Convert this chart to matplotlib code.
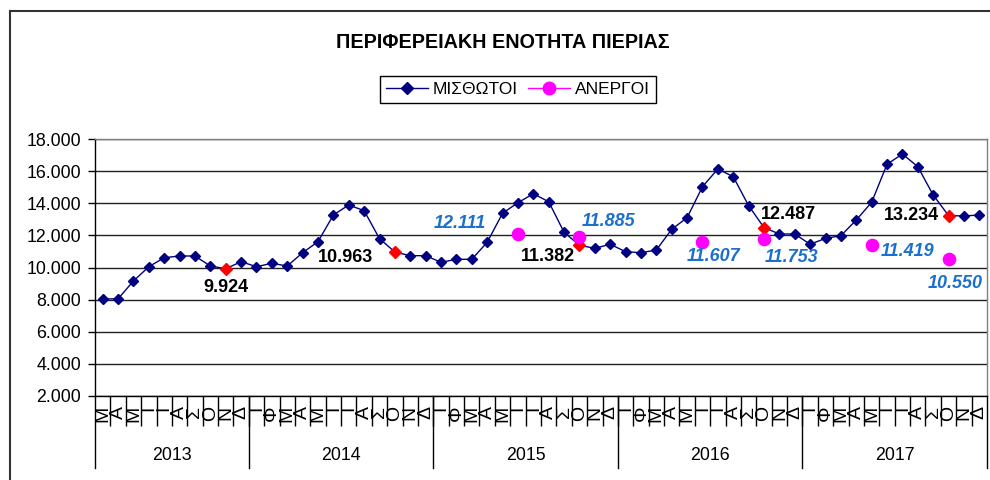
import matplotlib
matplotlib.use("Agg")
import matplotlib.pyplot as plt
from matplotlib.lines import Line2D
from matplotlib.ticker import FuncFormatter, FixedLocator

plt.rcParams['font.family'] = ['Liberation Sans', 'DejaVu Sans']

# ---------------- data ----------------
title = "ΠΕΡΙΦΕΡΕΙΑΚΗ ΕΝΟΤΗΤΑ ΠΙΕΡΙΑΣ"
series_names = ["ΜΙΣΘΩΤΟΙ", "ΑΝΕΡΓΟΙ"]
years = ["2013", "2014", "2015", "2016", "2017"]
months_2013 = ["Μ", "Α", "Μ", "Ι", "Ι", "Α", "Σ", "Ο", "Ν", "Δ"]
months_full = ["Ι", "Φ", "Μ", "Α", "Μ", "Ι", "Ι", "Α", "Σ", "Ο", "Ν", "Δ"]

misthotoi = [
    8040, 8050, 9160, 10050, 10610, 10716, 10716, 10094, 9924, 10361,          # 2013 (Mar-Dec)
    10050, 10262, 10094, 10922, 11607, 13269, 13892, 13537, 11794, 10963, 10735, 10735,  # 2014
    10324, 10511, 10511, 11569, 13375, 14035, 14589, 14097, 12192, 11382, 11196, 11445,  # 2015
    10984, 10922, 11090, 12379, 13101, 15031, 16133, 15654, 13848, 12487, 12086, 12086,  # 2016
    11445, 11818, 11980, 12958, 14060, 16426, 17067, 16276, 14514, 13234, 13207, 13269,  # 2017
]
highlight_idx = [8, 19, 31, 43, 55]           # labelled ΜΙΣΘΩΤΟΙ points
anergoi_idx = [27, 31, 39, 43, 50, 55]
anergoi = [12111, 11885, 11607, 11753, 11419, 10550]

# ---------------- layout / style ----------------
hl_offsets = [(0, -19), (-49, -5), (-32, -11), (24, 13), (-37, 0)]        # px
an_offsets = [(-58, 10), (29, 16), (11, -15), (28, -18), (36, -7), (7, -25)]  # px

navy = "#000080"
magenta = "#FF00FF"
blue_lbl = "#1B6FCF"

fig = plt.figure(figsize=(9.9, 4.8), dpi=100)
ax = fig.add_axes([95 / 990, 1 - 396 / 480, (987 - 95) / 990, (396 - 139) / 480])

month_labels = months_2013 + months_full * (len(years) - 1)
x = list(range(len(misthotoi)))

ax.plot(x, misthotoi, color=navy, lw=1.0, marker="D", ms=4.6, mfc=navy, mec=navy,
        zorder=4)
ax.plot(highlight_idx, [misthotoi[i] for i in highlight_idx], ls="none", marker="D",
        ms=6.3, color="#FF0000", zorder=5)
ax.plot(anergoi_idx, anergoi, ls="none", marker="o", ms=8.8, color=magenta, zorder=6)


def gr(v):
    return f"{v:,}".replace(",", ".")


for i, (dx, dy) in zip(highlight_idx, hl_offsets):
    ax.annotate(gr(misthotoi[i]), (i, misthotoi[i]), xytext=(dx * 0.72, dy * 0.72),
                textcoords="offset points", ha="center", va="center",
                fontsize=13, fontweight="bold", color="black", zorder=7)
for i, v, (dx, dy) in zip(anergoi_idx, anergoi, an_offsets):
    ax.annotate(gr(v), (i, v), xytext=(dx * 0.72, dy * 0.72),
                textcoords="offset points", ha="center", va="center",
                fontsize=13, fontweight="bold", fontstyle="italic", color=blue_lbl, zorder=7)

# axes
ax.set_xlim(-0.5, len(x) - 0.5)
ax.set_ylim(2000, 18000)
ax.set_yticks(range(2000, 18001, 2000))
ax.yaxis.set_major_formatter(FuncFormatter(lambda v, p: gr(int(v))))
ax.tick_params(axis="y", length=5, width=1, direction="out", labelsize=12.8, pad=5)
ax.yaxis.grid(True, color="#222222", lw=1.0, zorder=0)
ax.set_axisbelow(True)

ax.set_xticks(x)
ax.set_xticklabels(month_labels, rotation=90, fontsize=14)
ax.tick_params(axis="x", which="major", length=0, pad=7)
ax.xaxis.set_minor_locator(FixedLocator([k - 0.5 for k in range(1, len(x))]))
ax.tick_params(axis="x", which="minor", length=21.5, width=1, direction="out", color="black")

for s in ["left", "bottom"]:
    ax.spines[s].set_color("black")
    ax.spines[s].set_linewidth(1.0)
for s in ["top", "right"]:
    ax.spines[s].set_color("#808080")
    ax.spines[s].set_linewidth(1.0)

# year separators and labels
trans = ax.get_xaxis_transform()
counts = [len(months_2013)] + [len(months_full)] * (len(years) - 1)
start = 0
bounds = [-0.5]
for yr, c in zip(years, counts):
    ax.text(start + c / 2 - 0.5, -0.23, yr, transform=trans, ha="center", va="center",
            fontsize=12.8)
    start += c
    bounds.append(start - 0.5)
for b in bounds:
    ax.add_line(Line2D([b, b], [0, -0.28], transform=trans, color="black", lw=1.0,
                       clip_on=False))

# title and legend
fig.text(503 / 990, 1 - 42 / 480, title, ha="center", va="center", fontsize=14.2,
         fontweight="bold")
handles = [
    Line2D([], [], color=navy, lw=1.0, marker="D", ms=6, mfc=navy, mec=navy),
    Line2D([], [], color=magenta, lw=1.0, marker="o", ms=9, mfc=magenta, mec=magenta),
]
leg = fig.legend(handles, series_names, loc="center",
                 bbox_to_anchor=(518 / 990, 1 - 89.5 / 480), ncol=2,
                 fontsize=12.5, frameon=True, fancybox=False, framealpha=1,
                 edgecolor="black", handlelength=2.4, handletextpad=0.3,
                 columnspacing=0.6, borderpad=0.35, borderaxespad=0)
leg.get_frame().set_linewidth(1.0)

# outer frame
fig.add_artist(Line2D([10 / 990, 10 / 990], [0, 1 - 11 / 480], transform=fig.transFigure,
                      color="#333333", lw=1.5))
fig.add_artist(Line2D([10 / 990, 1], [1 - 11 / 480, 1 - 11 / 480], transform=fig.transFigure,
                      color="#333333", lw=1.5))

fig.savefig("out.png", dpi=100)
